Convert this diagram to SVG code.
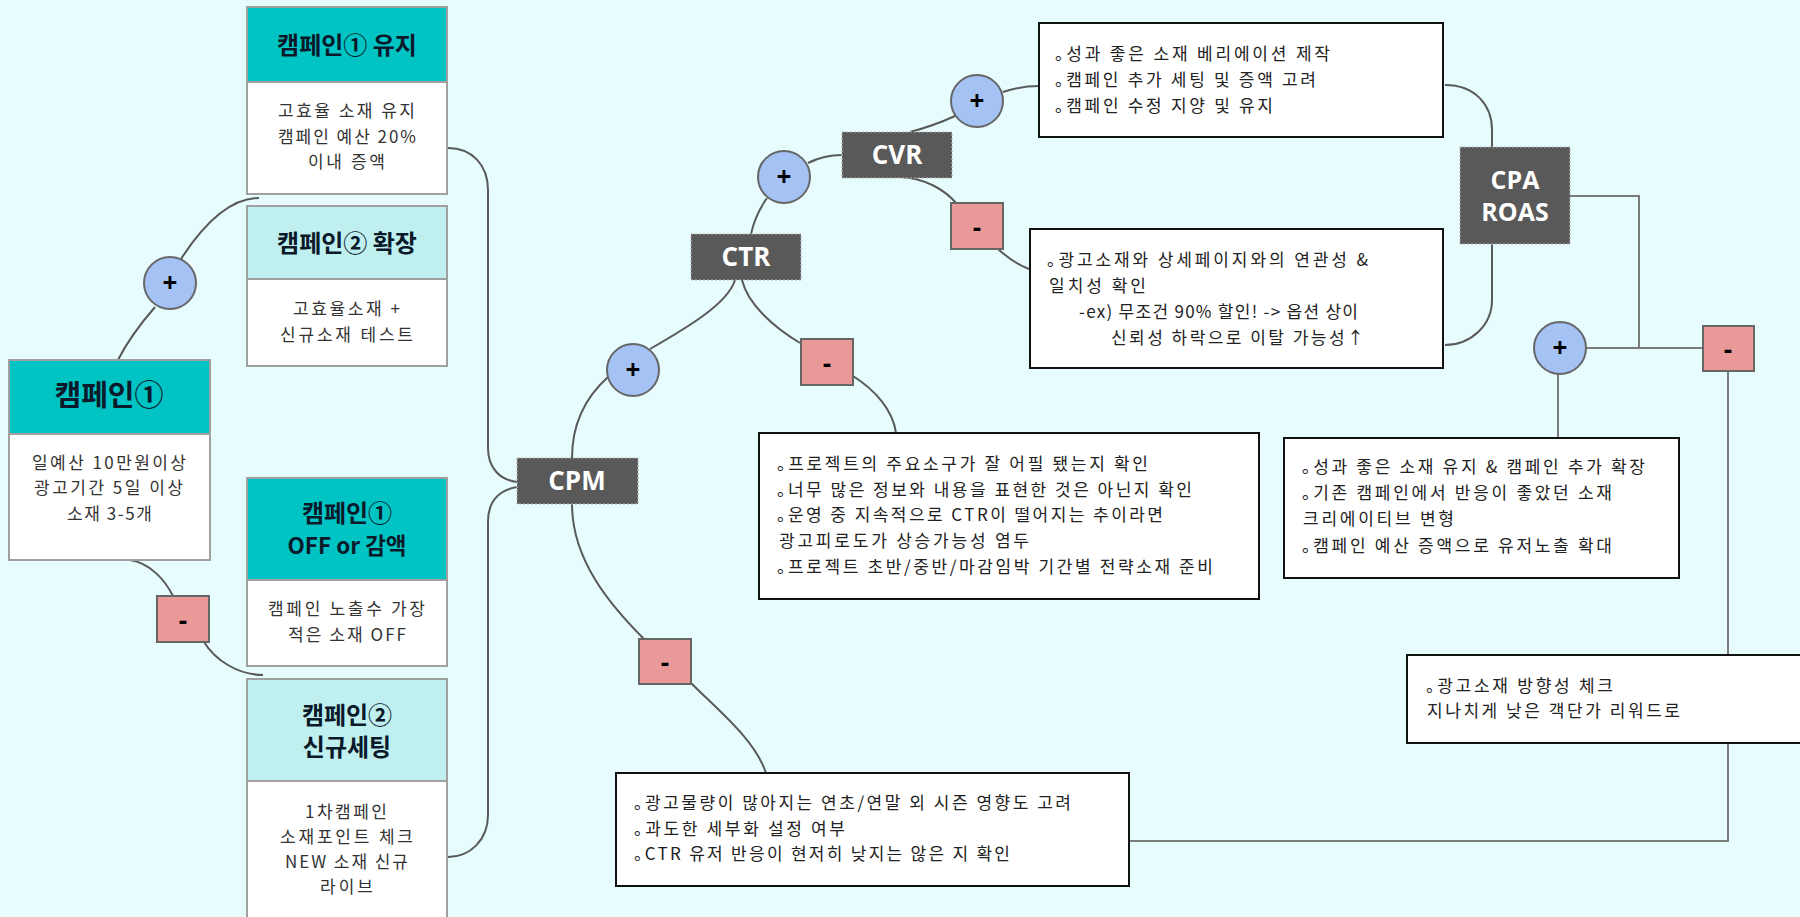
<svg xmlns="http://www.w3.org/2000/svg" width="1800" height="917" viewBox="0 0 1800 917">
<style>
.box{stroke:#A0A0A0;stroke-width:2}
.hd1{fill:#00C4C4}
.hd2{fill:#BFEFEE}
.bd{fill:#fff}
.ht{font-family:"Noto Sans CJK KR",sans-serif;font-weight:700;font-size:24px;fill:#0b1a2a;text-anchor:middle}
.bt{font-family:"Noto Sans CJK KR",sans-serif;font-size:17px;fill:#333;text-anchor:middle}
.dark rect{fill:#595959;stroke:#B5B5B5;stroke-width:1.2;stroke-dasharray:2 2}
.dt{font-family:"Open Sans","Noto Sans CJK KR",sans-serif;font-weight:700;font-size:26px;fill:#fff;text-anchor:middle}
.plus circle{fill:#A4C2F4;stroke:#666;stroke-width:2}
.minus rect{fill:#EA9999;stroke:#666;stroke-width:2}
.sym{font-family:"Open Sans",sans-serif;font-weight:700;font-size:26px;fill:#000;text-anchor:middle}
.call rect{fill:#fff;stroke:#111;stroke-width:2}
.ct{font-family:"Noto Sans CJK KR",sans-serif;font-size:17px;fill:#222;font-feature-settings:"halt"}
.c{fill:none;stroke:#595959;stroke-width:2}
.o{fill:none;stroke:#7A7A7A;stroke-width:2}
</style>
<rect width="1800" height="917" fill="#E7FCFD"/>
<g id="connectors">
<path class="c" d="M118,360 C128,340 142,322 155,307"/>
<path class="c" d="M181,259 C205,222 232,198 259,198"/>
<path class="c" d="M130,560 C150,563 165,580 173,596"/>
<path class="c" d="M204,642 C215,660 238,675 263,675"/>
<path class="c" d="M448,148 C472,148 488,165 488,190 L488,448 C488,468 500,480 517,482"/>
<path class="c" d="M517,487 C500,490 488,500 488,522 L488,815 C488,840 470,857 448,857"/>
<path class="c" d="M572,458 C572,420 588,395 608,377"/>
<path class="c" d="M650,349 C690,326 728,303 735,280"/>
<path class="c" d="M742,280 C748,305 775,328 800,343"/>
<path class="c" d="M853,376 C875,390 893,410 896,433"/>
<path class="c" d="M751,234 C754,220 760,208 767,198"/>
<path class="c" d="M808,163 C818,158 830,155 842,155"/>
<path class="c" d="M910,132 C925,128 942,122 955,116"/>
<path class="c" d="M1003,92 C1015,88 1027,86 1039,86"/>
<path class="c" d="M900,177 C925,178 945,190 956,203"/>
<path class="c" d="M998,249 C1008,258 1018,265 1029,269"/>
<path class="c" d="M1445,85 C1475,85 1492,105 1492,130 L1492,147"/>
<path class="c" d="M1492,244 L1492,300 C1492,326 1470,345 1445,345"/>
<path class="c" d="M572,504 C572,560 610,605 644,639"/>
<path class="c" d="M691,683 C720,712 755,740 766,773"/>
<path class="o" d="M1570,196 H1639 V348"/>
<path class="o" d="M1586,348 H1703"/>
<path class="o" d="M1558,374 V438"/>
<path class="o" d="M1728,371 V841 H1129"/>
</g>
<g id="camp1-keep">
<rect class="box bd" x="247" y="7" width="200" height="187"/>
<rect class="box hd1" x="247" y="7" width="200" height="75"/>
<text class="ht" x="347" y="54">캠페인① 유지</text>
<text class="bt" x="346.5" y="117" textLength="137" lengthAdjust="spacing">고효율 소재 유지</text>
<text class="bt" x="347" y="143" textLength="138" lengthAdjust="spacing">캠페인 예산 20%</text>
<text class="bt" x="346.5" y="168" textLength="77" lengthAdjust="spacing">이내 증액</text>
</g>
<g id="camp2-expand">
<rect class="box bd" x="247" y="206" width="200" height="160"/>
<rect class="box hd2" x="247" y="206" width="200" height="73"/>
<text class="ht" x="347" y="252">캠페인② 확장</text>
<text class="bt" x="346.5" y="315" textLength="107" lengthAdjust="spacing">고효율소재 +</text>
<text class="bt" x="346.5" y="341" textLength="133" lengthAdjust="spacing">신규소재 테스트</text>
</g>
<g id="camp1">
<rect class="box bd" x="9" y="360" width="201" height="200"/>
<rect class="box hd1" x="9" y="360" width="201" height="74"/>
<text class="ht" x="109" y="406" style="font-size:29px">캠페인①</text>
<text class="bt" x="109" y="469" textLength="154" lengthAdjust="spacing">일예산 10만원이상</text>
<text class="bt" x="108.5" y="494" textLength="149" lengthAdjust="spacing">광고기간 5일 이상</text>
<text class="bt" x="109.5" y="520" textLength="85" lengthAdjust="spacing">소재 3-5개</text>
</g>
<g id="camp1-off">
<rect class="box bd" x="247" y="478" width="200" height="188"/>
<rect class="box hd1" x="247" y="478" width="200" height="102"/>
<text class="ht" x="347" y="522">캠페인①</text>
<text class="ht" x="347" y="554" style="font-size:22.5px">OFF or 감액</text>
<text class="bt" x="346.5" y="615" textLength="157" lengthAdjust="spacing">캠페인 노출수 가장</text>
<text class="bt" x="347" y="641" textLength="118" lengthAdjust="spacing">적은 소재 OFF</text>
</g>
<g id="camp2-new">
<rect class="box bd" x="247" y="679" width="200" height="260"/>
<rect class="box hd2" x="247" y="679" width="200" height="102"/>
<text class="ht" x="347" y="724">캠페인②</text>
<text class="ht" x="347" y="756">신규세팅</text>
<text class="bt" x="346" y="818" textLength="82" lengthAdjust="spacing">1차캠페인</text>
<text class="bt" x="346.5" y="843" textLength="133" lengthAdjust="spacing">소재포인트 체크</text>
<text class="bt" x="346.5" y="868" textLength="123" lengthAdjust="spacing">NEW 소재 신규</text>
<text class="bt" x="346.5" y="893" textLength="53" lengthAdjust="spacing">라이브</text>
</g>
<g id="plus-camp" class="plus"><circle cx="170" cy="283" r="26"/><text class="sym" x="170" y="292">+</text></g>
<g id="minus-camp" class="minus"><rect x="157" y="596" width="52" height="46"/><text class="sym" x="183" y="630">-</text></g>
<g id="cpm" class="dark"><rect x="517" y="458" width="121" height="46"/><text class="dt" x="577" y="490">CPM</text></g>
<g id="ctr" class="dark"><rect x="691" y="234" width="110" height="46"/><text class="dt" x="746" y="266">CTR</text></g>
<g id="cvr" class="dark"><rect x="842" y="132" width="110" height="46"/><text class="dt" x="897" y="164">CVR</text></g>
<g id="cpa-roas" class="dark"><rect x="1460" y="147" width="110" height="97"/><text class="dt" x="1515" y="189" style="font-size:25px">CPA</text><text class="dt" x="1515" y="221" style="font-size:25px">ROAS</text></g>
<g id="plus-cpm" class="plus"><circle cx="633" cy="370" r="26"/><text class="sym" x="633" y="379">+</text></g>
<g id="plus-ctr" class="plus"><circle cx="784" cy="177" r="26"/><text class="sym" x="784" y="186">+</text></g>
<g id="plus-cvr" class="plus"><circle cx="977" cy="101" r="26"/><text class="sym" x="977" y="110">+</text></g>
<g id="plus-cpa" class="plus"><circle cx="1560" cy="348" r="26"/><text class="sym" x="1560" y="357">+</text></g>
<g id="minus-cpm" class="minus"><rect x="639" y="639" width="52" height="45"/><text class="sym" x="665" y="672">-</text></g>
<g id="minus-ctr" class="minus"><rect x="801" y="339" width="52" height="46"/><text class="sym" x="827" y="373">-</text></g>
<g id="minus-cvr" class="minus"><rect x="951" y="203" width="52" height="46"/><text class="sym" x="977" y="237">-</text></g>
<g id="minus-cpa" class="minus"><rect x="1703" y="326" width="51" height="45"/><text class="sym" x="1728" y="359">-</text></g>
<g id="callout-cvr-plus" class="call">
<rect x="1039" y="23" width="404" height="114"/>
<text class="ct" x="1055" y="60" textLength="275" lengthAdjust="spacing">。성과 좋은 소재 베리에이션 제작</text>
<text class="ct" x="1055" y="86" textLength="261" lengthAdjust="spacing">。캠페인 추가 세팅 및 증액 고려</text>
<text class="ct" x="1055" y="112" textLength="218" lengthAdjust="spacing">。캠페인 수정 지양 및 유지</text>
</g>
<g id="callout-cvr-minus" class="call">
<rect x="1030" y="229" width="413" height="139"/>
<text class="ct" x="1047" y="266" textLength="321" lengthAdjust="spacing">。광고소재와 상세페이지와의 연관성 &amp;</text>
<text class="ct" x="1049" y="292" textLength="97" lengthAdjust="spacing">일치성 확인</text>
<text class="ct" x="1079" y="318" textLength="279" lengthAdjust="spacing">-ex) 무조건 90% 할인! -&gt; 옵션 상이</text>
<text class="ct" x="1111" y="344" textLength="253" lengthAdjust="spacing">신뢰성 하락으로 이탈 가능성↑</text>
</g>
<g id="callout-ctr-minus" class="call">
<rect x="759" y="433" width="500" height="166"/>
<text class="ct" x="777" y="470" textLength="371" lengthAdjust="spacing">。프로젝트의 주요소구가 잘 어필 됐는지 확인</text>
<text class="ct" x="777" y="496" textLength="415" lengthAdjust="spacing">。너무 많은 정보와 내용을 표현한 것은 아닌지 확인</text>
<text class="ct" x="777" y="521" textLength="386" lengthAdjust="spacing">。운영 중 지속적으로 CTR이 떨어지는 추이라면</text>
<text class="ct" x="779" y="547" textLength="250" lengthAdjust="spacing">광고피로도가 상승가능성 염두</text>
<text class="ct" x="777" y="573" textLength="436" lengthAdjust="spacing">。프로젝트 초반/중반/마감임박 기간별 전략소재 준비</text>
</g>
<g id="callout-cpm-minus" class="call">
<rect x="616" y="773" width="513" height="113"/>
<text class="ct" x="634" y="809" textLength="437" lengthAdjust="spacing">。광고물량이 많아지는 연초/연말 외 시즌 영향도 고려</text>
<text class="ct" x="634" y="835" textLength="211" lengthAdjust="spacing">。과도한 세부화 설정 여부</text>
<text class="ct" x="634" y="860" textLength="376" lengthAdjust="spacing">。CTR 유저 반응이 현저히 낮지는 않은 지 확인</text>
</g>
<g id="callout-cpa-plus" class="call">
<rect x="1284" y="438" width="395" height="140"/>
<text class="ct" x="1302" y="473" textLength="343" lengthAdjust="spacing">。성과 좋은 소재 유지 &amp;  캠페인 추가 확장</text>
<text class="ct" x="1302" y="499" textLength="310" lengthAdjust="spacing">。기존 캠페인에서 반응이 좋았던 소재</text>
<text class="ct" x="1303" y="525" textLength="151" lengthAdjust="spacing">크리에이티브 변형</text>
<text class="ct" x="1302" y="552" textLength="310" lengthAdjust="spacing">。캠페인 예산 증액으로 유저노출 확대</text>
</g>
<g id="callout-cpa-minus" class="call">
<rect x="1407" y="655" width="410" height="88"/>
<text class="ct" x="1426" y="692" textLength="187" lengthAdjust="spacing">。광고소재 방향성 체크</text>
<text class="ct" x="1427" y="717" textLength="253" lengthAdjust="spacing">지나치게 낮은 객단가 리워드로</text>
</g>
</svg>
